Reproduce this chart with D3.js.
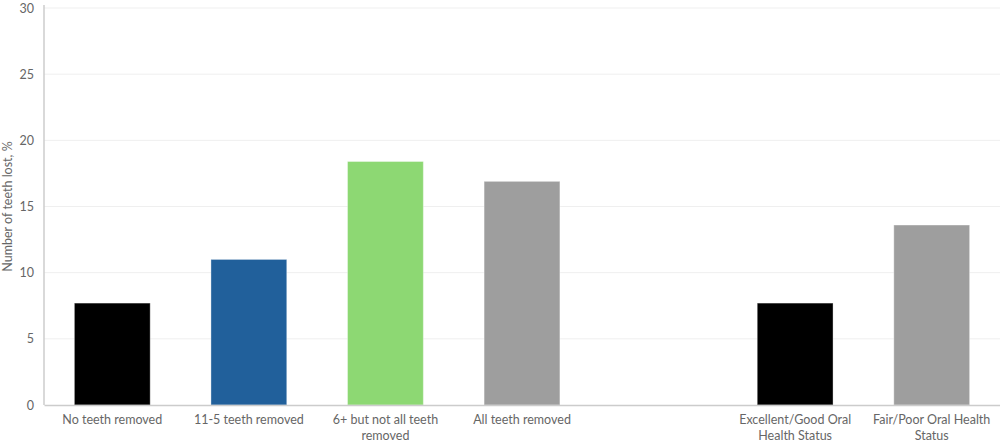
<!DOCTYPE html>
<html>
<head>
<meta charset="utf-8">
<script src="https://cdn.jsdelivr.net/npm/d3@7"></script>
<style>
  body { margin: 0; background: #fff; }
  svg { display: block; }
</style>
</head>
<body>
<svg id="chart"></svg>
<script>
// data
const categories = ["No teeth removed", "11-5 teeth removed", "6+ but not all teeth removed",
  "All teeth removed", "", "Excellent/Good Oral Health Status", "Fair/Poor Oral Health Status"];
const values = [7.7, 11.0, 18.4, 16.9, null, 7.7, 13.6];
const barColors = ["#000000", "#21609b", "#8dd873", "#9e9e9e", null, "#000000", "#9e9e9e"];
const yTicks = [0, 5, 10, 15, 20, 25, 30];

const width = 1000, height = 443;
const margin = { top: 8, right: 0, bottom: 38, left: 44 };
const innerW = width - margin.left - margin.right;
const innerH = height - margin.top - margin.bottom;
const font = "Lato, 'Open Sans', sans-serif";

const svg = d3.select("#chart").attr("width", width).attr("height", height);
const g = svg.append("g").attr("transform", `translate(${margin.left},${margin.top})`);

// keep the blank slot unique in the band domain
const keys = categories.map((c, i) => i);
const x = d3.scaleBand().domain(keys).range([0, innerW]).paddingInner(0.445).paddingOuter(0.2225);
const y = d3.scaleLinear().domain([0, 30]).range([innerH, 0]);

// gridlines
g.selectAll(".grid")
  .data(yTicks.filter(d => d > 0))
  .enter().append("line")
  .attr("class", "grid")
  .attr("x1", 0).attr("x2", innerW)
  .attr("y1", d => y(d)).attr("y2", d => y(d))
  .attr("stroke", "#efefef").attr("stroke-width", 1);

// bars
const data = keys.map(i => ({ key: i, value: values[i], color: barColors[i] })).filter(d => d.value != null);
g.selectAll(".bar")
  .data(data)
  .enter().append("rect")
  .attr("class", "bar")
  .attr("x", d => x(d.key))
  .attr("width", x.bandwidth())
  .attr("y", d => y(d.value))
  .attr("height", d => y(0) - y(d.value))
  .attr("fill", d => d.color)
  .attr("stroke", "rgba(255,255,255,0.35)")
  .attr("stroke-width", 1);

// y axis
const yAxisG = g.append("g")
  .call(d3.axisLeft(y).tickValues(yTicks).tickSize(0).tickPadding(10));
yAxisG.select(".domain").attr("stroke", "#cccccc").attr("stroke-width", 1.5).attr("d", `M0,-3V${innerH}`);
yAxisG.selectAll("text")
  .style("font-family", font).style("font-size", "12.5px").attr("fill", "#666");

// x axis
const xAxisG = g.append("g")
  .attr("transform", `translate(0,${innerH})`)
  .call(d3.axisBottom(x).tickSize(0).tickPadding(10).tickFormat(i => categories[i]));
xAxisG.select(".domain").attr("stroke", "#cccccc").attr("stroke-width", 1.5);
xAxisG.selectAll("text")
  .style("font-family", font).style("font-size", "12.5px").attr("fill", "#666")
  .call(wrap, 118);

function wrap(texts, w) {
  texts.each(function () {
    const text = d3.select(this);
    const words = text.text().split(/\s+/).filter(Boolean);
    const yy = text.attr("y"), dy = parseFloat(text.attr("dy"));
    text.text(null);
    let line = [];
    let lineNo = 0;
    let tspan = text.append("tspan").attr("x", 0).attr("y", yy).attr("dy", dy + "em");
    words.forEach(word => {
      line.push(word);
      tspan.text(line.join(" "));
      if (tspan.node().getComputedTextLength() > w && line.length > 1) {
        line.pop();
        tspan.text(line.join(" "));
        line = [word];
        lineNo++;
        tspan = text.append("tspan").attr("x", 0).attr("y", yy)
          .attr("dy", (lineNo * 1.25 + dy) + "em").text(word);
      }
    });
  });
}

// y title
svg.append("text")
  .attr("transform", `translate(12,${margin.top + innerH / 2}) rotate(-90)`)
  .attr("text-anchor", "middle")
  .attr("fill", "#666")
  .style("font-family", font).style("font-size", "12.5px")
  .text("Number of teeth lost, %");
</script>
</body>
</html>
